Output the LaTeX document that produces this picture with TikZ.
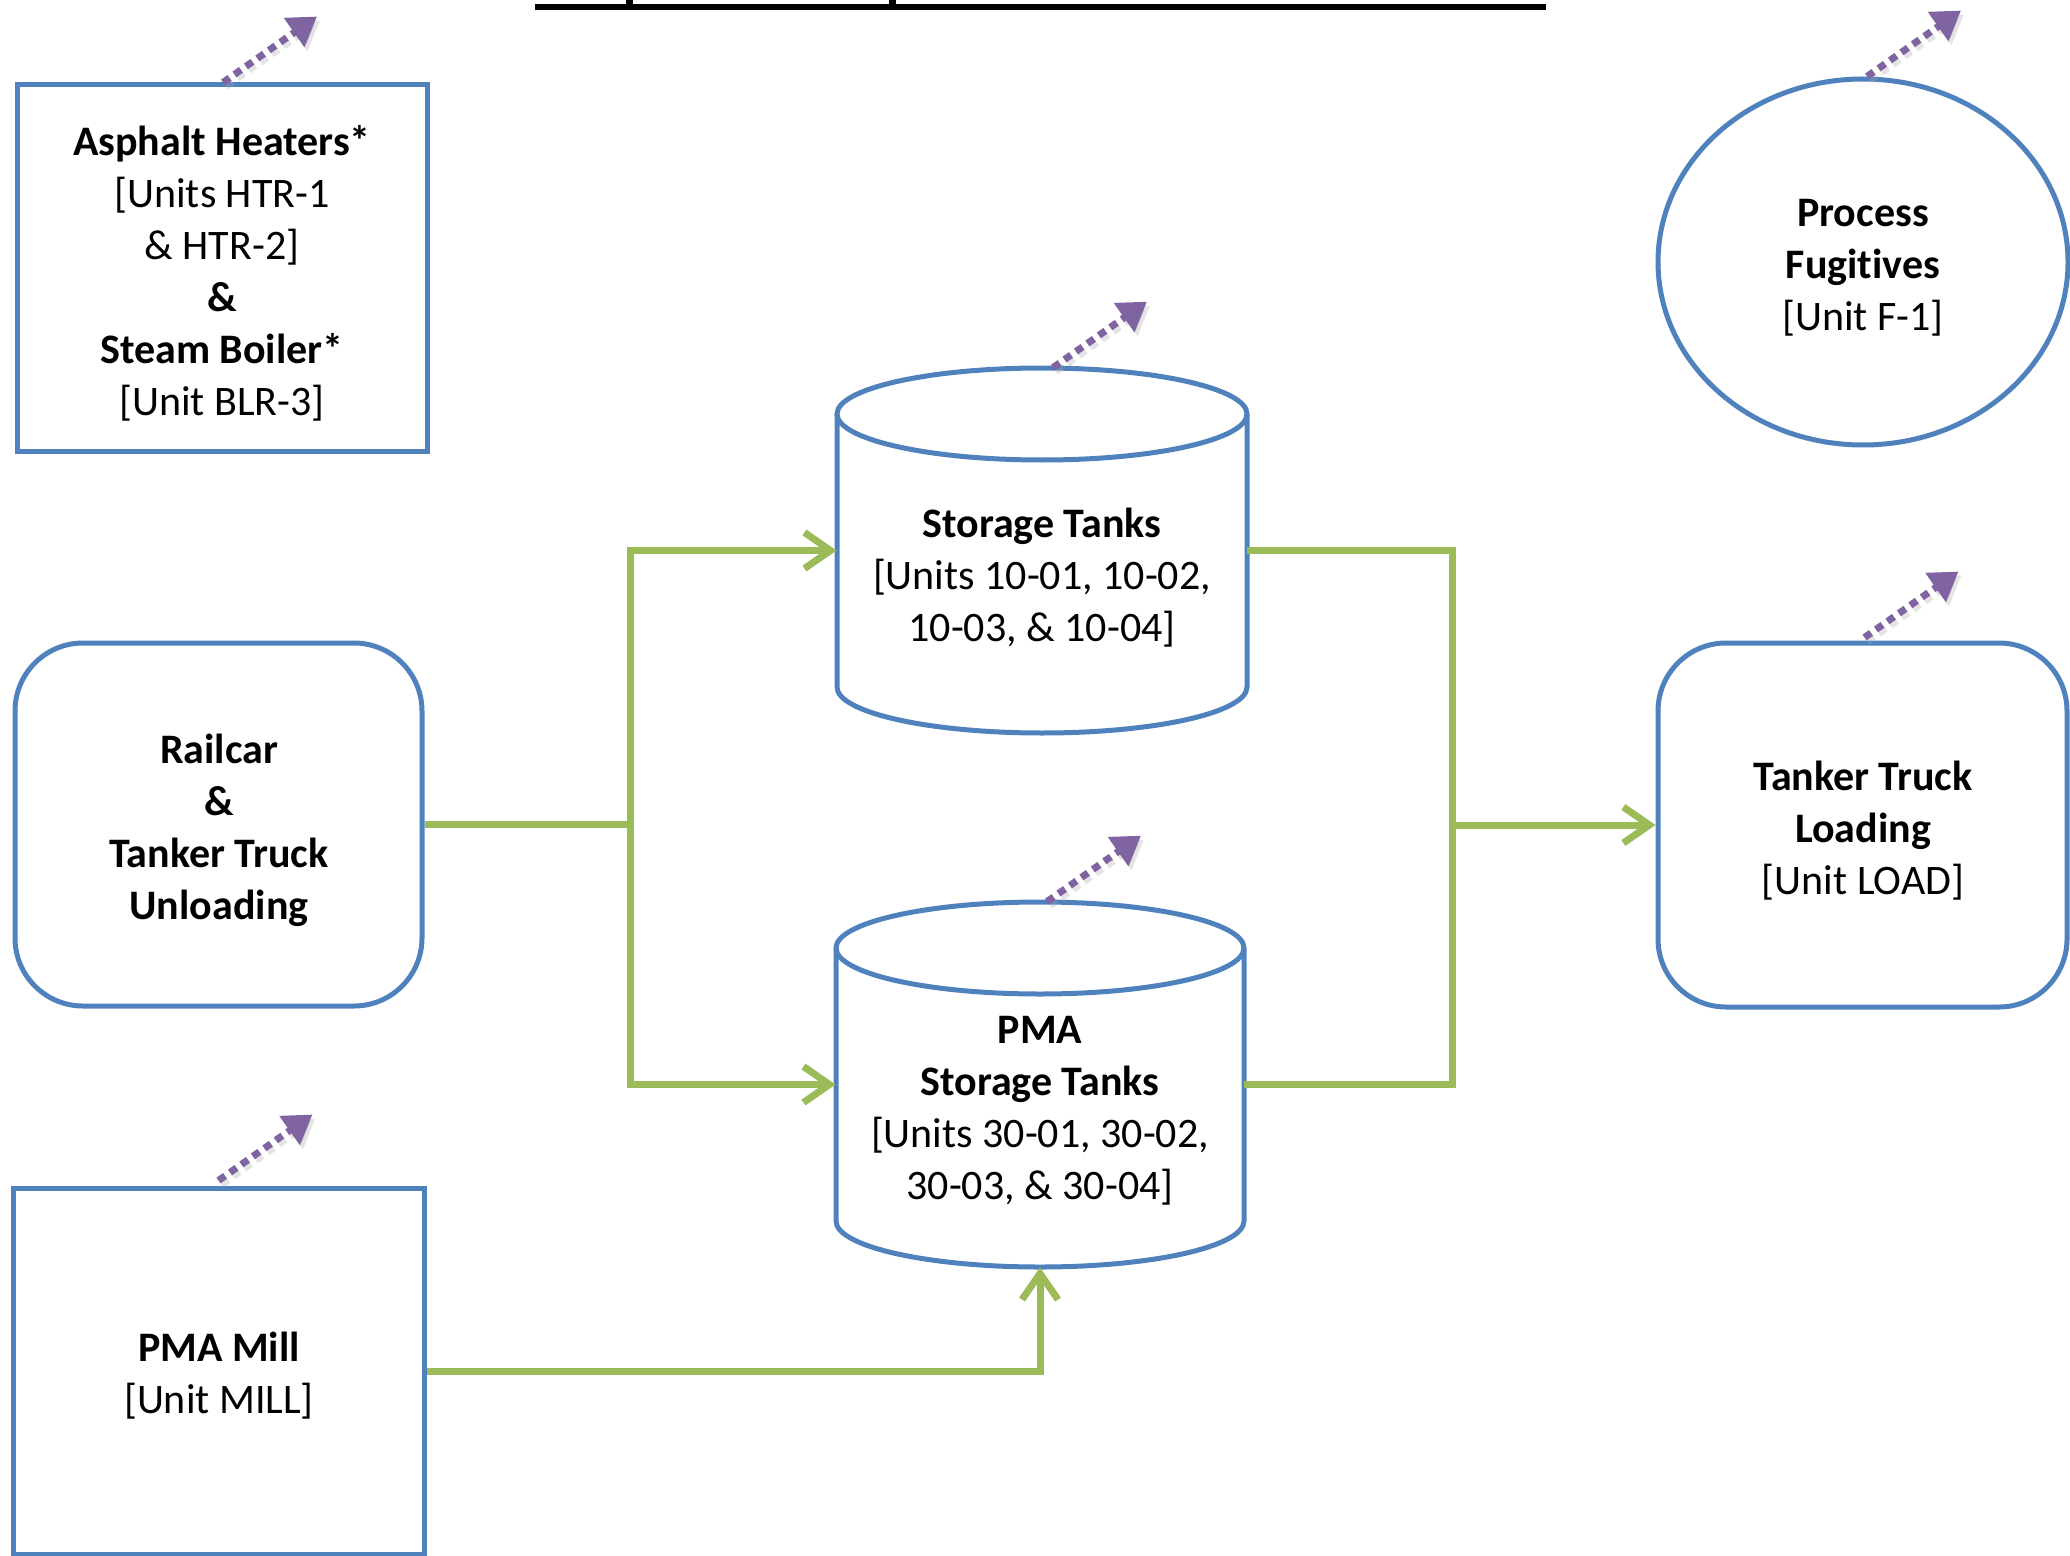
\documentclass[tikz,border=0pt]{standalone}
\usepackage{fontspec}
\setmainfont{Carlito}[Ligatures=CommonOff]
\usetikzlibrary{arrows.meta,shapes.geometric}
\definecolor{bl}{HTML}{4F81BD}
\definecolor{gr}{HTML}{9BBB59}
\definecolor{pu}{HTML}{8064A2}
\newcommand\txtsz{\fontsize{21}{26}\selectfont}
\tikzset{
  box/.style={draw=bl, line width=2.5pt, inner sep=0pt, fill=white},
  ghost/.style={draw=none, inner sep=0pt},
  lbl/.style={align=center, font=\txtsz, inner sep=0pt},
  cyl/.style={draw=bl, line width=2.5pt},
  flow/.style={draw=gr, line width=3.5pt},
  flowarr/.style={flow, -{Straight Barb[length=13pt,width=18pt]}},
  emis/.style={draw=pu, line width=3.5pt, dash pattern=on 4pt off 3pt, -{Triangle[length=14pt,width=17pt]}},
  emissh/.style={draw=black!35, opacity=0.3, line width=3.5pt, dash pattern=on 4pt off 3pt, -{Triangle[length=14pt,width=17pt]}},
}
\begin{document}
\begin{tikzpicture}[x=0.5pt,y=-0.5pt]
\useasboundingbox (0,0) rectangle (2070,1556);
% title remnant
\draw[line width=3pt] (535,7) -- (1546,7);
\fill (626,0) rectangle (633,7);
\fill (889,0) rectangle (896,7);

% cylinders (drawn shapes)
\draw[cyl] (837,414) -- (837,687) arc[start angle=180,end angle=0,x radius=205,y radius=46] -- (1247,414);
\draw[cyl] (1042,414) ellipse[x radius=205, y radius=46];
\draw[cyl] (836,948) -- (836,1221) arc[start angle=180,end angle=0,x radius=204,y radius=46] -- (1244,948);
\draw[cyl] (1040,948) ellipse[x radius=204, y radius=46];

% nodes
\node[box, minimum width=205pt, minimum height=183pt] (asp) at (222,268) {};
\node[lbl] (aspT) at (222,273)
  {\textbf{Asphalt Heaters*}\\ {[}Units HTR-1\\ \& HTR-2]\\ \textbf{\&}\\ \textbf{Steam Boiler*}\\ {[}Unit BLR-3]};
\node[box, rounded corners=34pt, minimum width=203.5pt, minimum height=181.5pt] (rail) at (218.5,824.5) {};
\node[lbl] (railT) at (219,830)
  {\textbf{Railcar}\\ \textbf{\&}\\ \textbf{Tanker Truck}\\ \textbf{Unloading}};
\node[box, minimum width=205.5pt, minimum height=183pt] (mill) at (218.5,1371) {};
\node[lbl] (millT) at (219,1376) {\textbf{PMA Mill}\\ {[}Unit MILL]};
\node[box, ellipse, minimum width=205pt, minimum height=183pt] (fug) at (1863,262) {};
\node[lbl] (fugT) at (1863,268) {\textbf{Process}\\ \textbf{Fugitives}\\ {[}Unit F-1]};
\node[box, rounded corners=34pt, minimum width=204.5pt, minimum height=182pt] (load) at (1862.5,825) {};
\node[lbl] (loadT) at (1863,831) {\textbf{Tanker Truck}\\ \textbf{Loading}\\ {[}Unit LOAD]};
\node[ghost, minimum width=205pt, minimum height=182.5pt] (st) at (1042,550.5) {};
\node[lbl] (stT) at (1042,578) {\textbf{Storage Tanks}\\ {[}Units 10-01, 10-02,\\ 10-03, \& 10-04]};
\node[ghost, minimum width=204pt, minimum height=182.5pt] (pst) at (1040,1084.5) {};
\node[lbl] (pstT) at (1040,1111) {\textbf{PMA}\\ \textbf{Storage Tanks}\\ {[}Units 30-01, 30-02,\\ 30-03, \& 30-04]};

% green flows
\coordinate (j1) at (630,824.5);
\coordinate (j2) at (1452,825);
\draw[flow] (rail.east) -- (j1);
\draw[flowarr] (j1) |- (st.west);
\draw[flowarr] (j1) |- (pst.west);
\draw[flow] (st.east) -| (j2);
\draw[flow] (pst.east) -| (j2);
\draw[flowarr] (j2) -- (load.west);
\draw[flowarr] (mill.east) -| (pst.south);

% emission arrows
\coordinate (a1) at ([shift={(1,0)}]asp.north);
\coordinate (a2) at ([shift={(11,0)}]st.north);
\coordinate (a3) at ([shift={(4,0)}]fug.north);
\coordinate (a4) at ([shift={(2,-3)}]load.north);
\coordinate (a5) at ([shift={(0,-5)}]mill.north);
\coordinate (a6) at ([shift={(7,0)}]pst.north);
\foreach \s in {a1,a2,a3,a4,a5,a6}{
  \coordinate (\s e) at ([shift={(94,-66)}]\s);
  \draw[emissh] ([shift={(3,4)}]\s) -- ([shift={(3,4)}]\s e);
  \draw[emis] (\s) -- (\s e);
}
\end{tikzpicture}
\end{document}
